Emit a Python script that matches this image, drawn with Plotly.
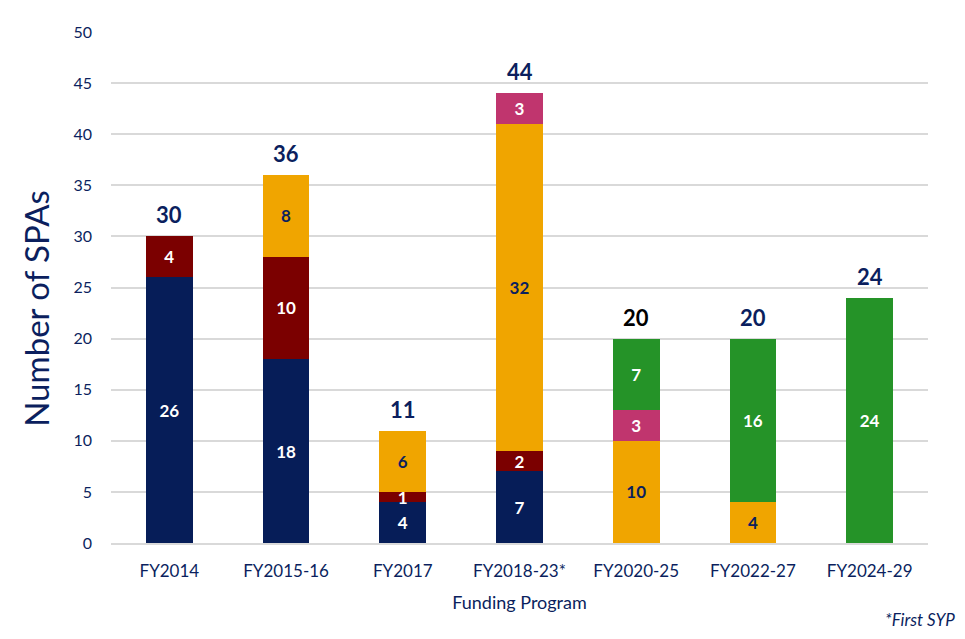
import plotly.graph_objects as go

programs = ["FY2014", "FY2015-16", "FY2017", "FY2018-23*", "FY2020-25", "FY2022-27", "FY2024-29"]

navy_vals = [26, 18, 4, 7, None, None, None]
red_vals = [4, 10, 1, 2, None, None, None]
gold_vals = [None, 8, 6, 32, 10, 4, None]
pink_vals = [None, None, None, 3, 3, None, None]
green_vals = [None, None, None, None, 7, 16, 24]

totals = [30, 36, 11, 44, 20, 20, 24]
total_colors = ["#0B1F5E", "#0B1F5E", "#0B1F5E", "#0B1F5E", "#000000", "#0B1F5E", "#0B1F5E"]

NAVY_TXT = "#0B1F5E"
FONT = "Lato, 'Open Sans', sans-serif"

series = [
    ("Series 1", navy_vals, "#061D58", "white"),
    ("Series 2", red_vals, "#7B0000", "white"),
    ("Series 3", gold_vals, "#F0A500", NAVY_TXT),
    ("Series 4", pink_vals, "#C0356E", "white"),
    ("Series 5", green_vals, "#259328", "white"),
]

fig = go.Figure()
for name, vals, color, txtcolor in series:
    fig.add_trace(go.Bar(
        x=programs, y=vals, name=name,
        marker=dict(color=color, line=dict(width=0)),
        text=[str(v) if v is not None else "" for v in vals],
        textposition="inside", insidetextanchor="middle",
        constraintext="none", textangle=0,
        textfont=dict(color=txtcolor, size=17, family=FONT, weight="bold"),
        width=0.4,
    ))

# total labels above each bar
notes = [
    dict(x=p, y=t, text="<b>%d</b>" % t, showarrow=False, yanchor="bottom", yshift=6,
         font=dict(size=22, color=c, family=FONT))
    for p, t, c in zip(programs, totals, total_colors)
]
notes.append(dict(
    text="<i>*First SYP</i>", xref="paper", yref="paper",
    x=1.035, y=-0.125, xanchor="right", yanchor="top", showarrow=False,
    font=dict(size=17, color=NAVY_TXT, family=FONT),
))
# y axis title, sitting a little below the middle as in the original
notes.append(dict(
    text="Number of SPAs", xref="paper", yref="paper",
    x=-0.092, y=0.46, textangle=-90, showarrow=False,
    xanchor="center", yanchor="middle",
    font=dict(size=33, color=NAVY_TXT, family=FONT),
))

fig.update_layout(
    barmode="stack",
    width=965, height=639,
    margin=dict(l=103, r=45, t=24, b=104),
    plot_bgcolor="white", paper_bgcolor="white",
    showlegend=False,
    font=dict(family=FONT, color=NAVY_TXT),
    xaxis=dict(
        title=dict(text="Funding Program", font=dict(size=18, color=NAVY_TXT), standoff=16),
        tickfont=dict(size=17, color=NAVY_TXT),
        ticklabelstandoff=12,
        showline=True, linecolor="#D9D9D9", linewidth=1.5,
        ticks="",
    ),
    yaxis=dict(
        range=[0, 50], dtick=5,
        tickfont=dict(size=16, color=NAVY_TXT),
        ticklabelstandoff=18,
        showgrid=True, gridcolor="#D9D9D9", gridwidth=1.5,
        zeroline=False, ticks="", ticklen=0,
    ),
    annotations=notes,
)

fig.write_html("out.html")
